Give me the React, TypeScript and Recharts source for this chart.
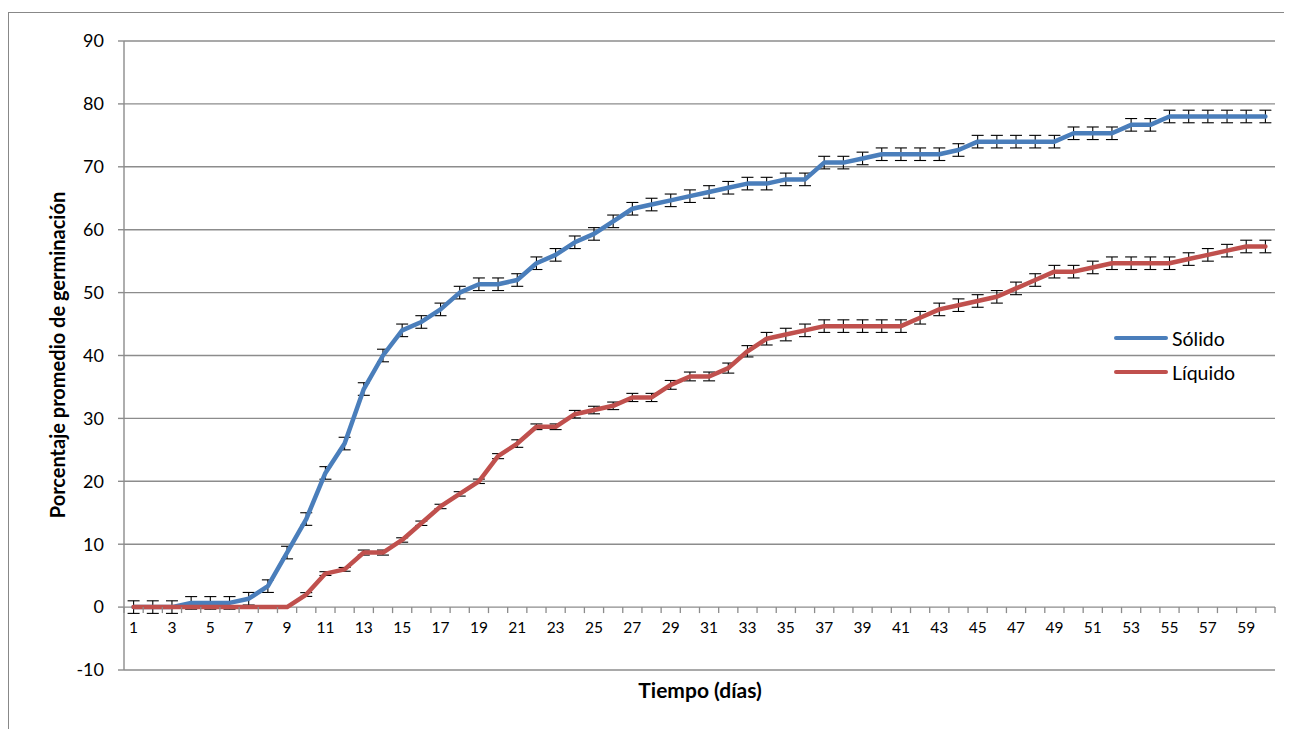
import React from "react";
import { CartesianGrid, ErrorBar, Legend, Line, LineChart, XAxis, YAxis } from "recharts";

const dias = [
  1, 2, 3, 4, 5, 6, 7, 8, 9, 10, 11, 12, 13, 14, 15, 16, 17, 18, 19, 20,
  21, 22, 23, 24, 25, 26, 27, 28, 29, 30, 31, 32, 33, 34, 35, 36, 37, 38, 39, 40,
  41, 42, 43, 44, 45, 46, 47, 48, 49, 50, 51, 52, 53, 54, 55, 56, 57, 58, 59, 60,
];

const solido = [
  0, 0, 0, 0.67, 0.67, 0.67, 1.33, 3.33, 8.67, 14,
  21.33, 26, 34.67, 40, 44, 45.33, 47.33, 50, 51.33, 51.33,
  52, 54.67, 56, 58, 59.33, 61.33, 63.33, 64, 64.67, 65.33,
  66, 66.67, 67.33, 67.33, 68, 68, 70.67, 70.67, 71.33, 72,
  72, 72, 72, 72.67, 74, 74, 74, 74, 74, 75.33,
  75.33, 75.33, 76.67, 76.67, 78, 78, 78, 78, 78, 78,
];

const liquido = [
  0, 0, 0, 0, 0, 0, 0, 0, 0, 2,
  5.33, 6, 8.67, 8.67, 10.67, 13.33, 16, 18, 20, 24,
  26, 28.67, 28.67, 30.67, 31.33, 32, 33.33, 33.33, 35.33, 36.67,
  36.67, 38, 40.67, 42.67, 43.33, 44, 44.67, 44.67, 44.67, 44.67,
  44.67, 46, 47.33, 48, 48.67, 49.33, 50.67, 52, 53.33, 53.33,
  54, 54.67, 54.67, 54.67, 54.67, 55.33, 56, 56.67, 57.33, 57.33,
];

// error bar half-lengths (±)
const errSolido = [
  1, 1, 1, 1, 1, 1, 1, 1, 1, 1,
  1, 1, 1, 1, 1, 1, 1, 1, 1, 1,
  1, 1, 1, 1, 1, 1, 1, 1, 1, 1,
  1, 1, 1, 1, 1, 1, 1, 1, 1, 1,
  1, 1, 1, 1, 1, 1, 1, 1, 1, 1,
  1, 1, 1, 1, 1, 1, 1, 1, 1, 1,
];

const errLiquido = [
  0, 0, 0, 0, 0, 0, 0, 0, 0, 0.3,
  0.3, 0.3, 0.4, 0.4, 0.35, 0.35, 0.35, 0.35, 0.35, 0.4,
  0.6, 0.45, 0.45, 0.6, 0.6, 0.6, 0.65, 0.65, 0.7, 0.7,
  0.7, 0.8, 0.9, 1, 1, 1, 1, 1, 1, 1,
  1, 1, 1, 1, 1, 1, 1, 1, 1, 1,
  1, 1, 1, 1, 1, 1, 1, 1, 1, 1,
];

const yTicks = [-10, 0, 10, 20, 30, 40, 50, 60, 70, 80, 90];
const seriesNames = ["Sólido", "Líquido"];

const data = dias.map((d, i) => ({
  dia: d,
  solido: solido[i],
  liquido: liquido[i],
  errS: errSolido[i],
  errL: errLiquido[i],
}));

const FONT = "Lato, 'Open Sans', sans-serif";
const GRID = "#8c8c8c";
const W = 1275;
const H = 705;
const Y_W = 115;
const X_H = 30;
const M = { top: 28, right: 9, bottom: 18, left: 0 };
const PLOT_W = W - M.left - Y_W - M.right;
const PLOT_H = H - M.top - M.bottom - X_H;
const BAND = PLOT_W / dias.length;
const ZERO_Y = M.top + PLOT_H * (90 / 100);

function DayTick(props: any) {
  const { x, payload, index } = props;
  const half = BAND / 2;
  return (
    <g>
      {index === 0 && (
        <line x1={x - half} x2={x - half} y1={ZERO_Y} y2={ZERO_Y + 6} stroke={GRID} strokeWidth={1.3} />
      )}
      <line x1={x + half} x2={x + half} y1={ZERO_Y} y2={ZERO_Y + 6} stroke={GRID} strokeWidth={1.3} />
      {payload.value % 2 === 1 && (
        <text x={x} y={ZERO_Y + 26} textAnchor="middle" fill="#000" fontSize={15.5} fontFamily={FONT}>
          {payload.value}
        </text>
      )}
    </g>
  );
}

function LegendBox({ payload }: any) {
  const items = seriesNames
    .map((n) => (payload || []).find((p: any) => p.value === n))
    .filter(Boolean);
  return (
    <div style={{ fontFamily: FONT, fontSize: 19.5, color: "#000" }}>
      {items.map((p: any) => (
        <div key={p.value} style={{ display: "flex", alignItems: "center", height: 34 }}>
          <span
            style={{
              display: "inline-block",
              width: 54,
              height: 4.5,
              borderRadius: 3,
              background: p.color,
              marginRight: 4,
            }}
          />
          {p.value}
        </div>
      ))}
    </div>
  );
}

export default function App() {
  return (
    <div
      style={{
        position: "relative",
        top: 4,
        width: W,
        height: 740,
        borderTop: "1px solid #888",
        borderLeft: "1px solid #888",
        fontFamily: FONT,
      }}
    >
      <style>{`html, body { overflow: hidden; }`}</style>
      <LineChart width={W} height={H} data={data} margin={M}>
        <CartesianGrid vertical={false} stroke={GRID} strokeWidth={1.4} />
        <XAxis
          dataKey="dia"
          height={X_H}
          interval={0}
          axisLine={false}
          tickLine={false}
          padding={{ left: BAND / 2, right: BAND / 2 }}
          tick={(p: any) => <DayTick {...p} />}
        />
        <YAxis
          width={Y_W}
          domain={[-10, 90]}
          ticks={yTicks}
          interval={0}
          allowDataOverflow
          stroke={GRID}
          axisLine={{ stroke: GRID, strokeWidth: 1.4 }}
          tickLine={{ stroke: GRID, strokeWidth: 1.4 }}
          tickSize={6}
          tickMargin={14}
          tick={{ fill: "#000", fontSize: 18, fontFamily: FONT }}
        />
        <Legend
          layout="vertical"
          align="center"
          verticalAlign="middle"
          wrapperStyle={{ left: 1105, top: 308, width: 160 }}
          content={(p: any) => <LegendBox {...p} />}
        />
        <Line
          type="linear"
          dataKey="solido"
          name="Sólido"
          stroke="#4a7ebb"
          strokeWidth={4.5}
          strokeLinejoin="round"
          strokeLinecap="round"
          dot={false}
          activeDot={false}
          isAnimationActive={false}
        >
          <ErrorBar dataKey="errS" direction="y" width={6} stroke="#000" strokeWidth={1.1} />
        </Line>
        <Line
          type="linear"
          dataKey="liquido"
          name="Líquido"
          stroke="#c0504d"
          strokeWidth={4.5}
          strokeLinejoin="round"
          strokeLinecap="round"
          dot={false}
          activeDot={false}
          isAnimationActive={false}
        >
          <ErrorBar dataKey="errL" direction="y" width={6} stroke="#000" strokeWidth={1.1} />
        </Line>
      </LineChart>
      <div
        style={{
          position: "absolute",
          left: 48,
          top: 342,
          transform: "translate(-50%, -50%) rotate(-90deg)",
          whiteSpace: "nowrap",
          fontWeight: 700,
          fontSize: 20,
          color: "#000",
        }}
      >
        Porcentaje promedio de germinación
      </div>
      <div
        style={{
          position: "absolute",
          left: 691,
          top: 676,
          transform: "translate(-50%, -50%)",
          whiteSpace: "nowrap",
          fontWeight: 700,
          fontSize: 21,
          color: "#000",
        }}
      >
        Tiempo (días)
      </div>
    </div>
  );
}
